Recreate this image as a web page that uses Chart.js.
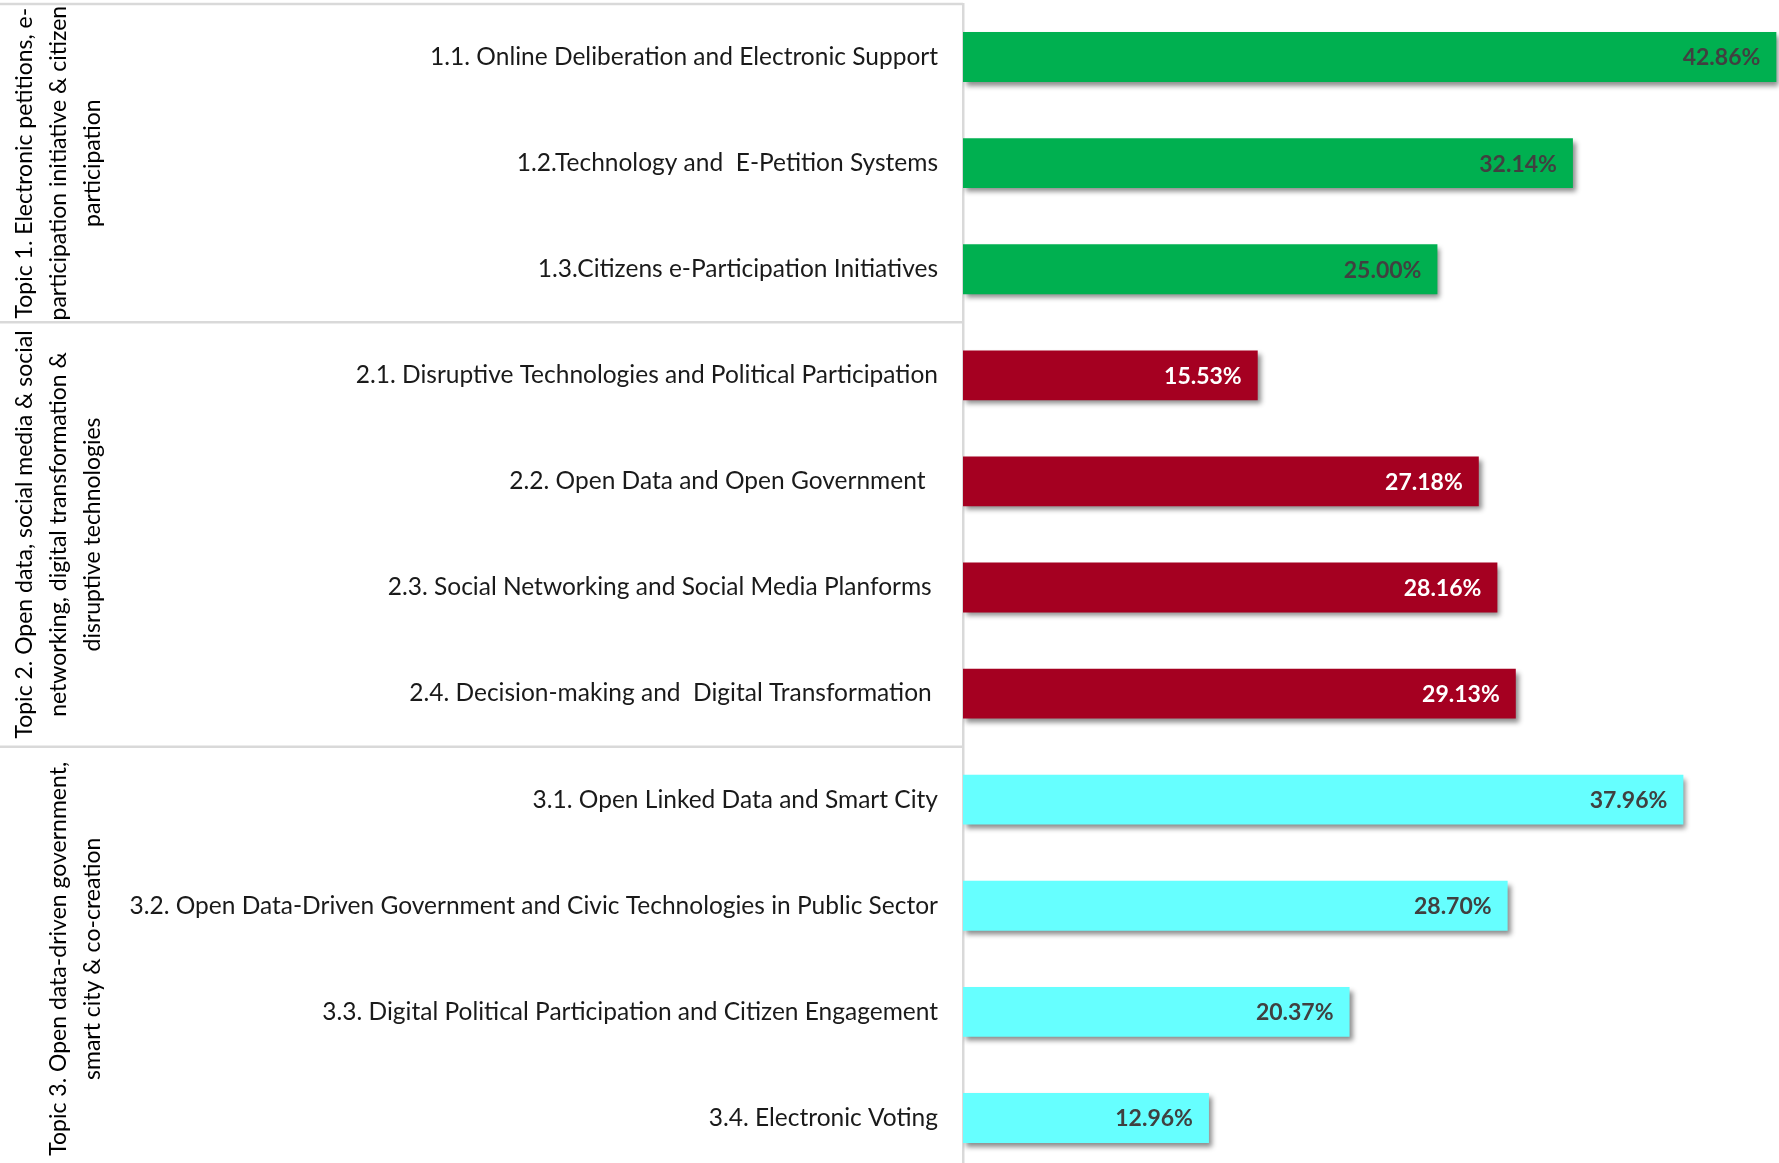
<!DOCTYPE html>
<html>
<head>
<meta charset="utf-8">
<script src="https://cdn.jsdelivr.net/npm/chart.js@4.4.1/dist/chart.umd.min.js"></script>
<style>
  html, body { margin: 0; padding: 0; background: #fff; overflow: hidden; }
  #wrap { width: 1779px; height: 1171px; position: relative; }
</style>
</head>
<body>
<div id="wrap"><canvas id="chart"></canvas></div>
<script>
const categories = [
    '1.1. Online Deliberation and Electronic Support',
    '1.2.Technology and  E-Petition Systems',
    '1.3.Citizens e-Participation Initiatives',
    '2.1. Disruptive Technologies and Political Participation',
    '2.2. Open Data and Open Government  ',
    '2.3. Social Networking and Social Media Planforms ',
    '2.4. Decision-making and  Digital Transformation ',
    '3.1. Open Linked Data and Smart City',
    '3.2. Open Data-Driven Government and Civic Technologies in Public Sector',
    '3.3. Digital Political Participation and Citizen Engagement',
    '3.4. Electronic Voting'
];
const values = [42.86, 32.14, 25.00, 15.53, 27.18, 28.16, 29.13, 37.96, 28.70, 20.37, 12.96];

const topicSizes = [3, 4, 4];
const topicLines = [
    ['Topic 1. Electronic petitions, e-', 'participation initiative & citizen', 'participation'],
    ['Topic 2. Open data, social media & social', 'networking, digital transformation &', 'disruptive technologies'],
    ['Topic 3. Open data-driven government,', 'smart city & co-creation']
];
const topicColors = ['#00B050', '#A50021', '#66FFFF'];
const topicLabelColors = ['#404040', '#FFFFFF', '#404040'];

// colour of each bar from its topic
const barColors = [];
const valueColors = [];
topicSizes.forEach((n, t) => {
    for (let i = 0; i < n; i++) {
        barColors.push(topicColors[t]);
        valueColors.push(topicLabelColors[t]);
    }
});

const FONT = 'Lato, "Open Sans", sans-serif';
const AXIS_X = 963;

const shadowPlugin = {
    id: 'barShadow',
    beforeDatasetsDraw(chart) {
        const ctx = chart.ctx;
        ctx.save();
        ctx.shadowColor = 'rgba(0,0,0,0.45)';
        ctx.shadowBlur = 5;
        ctx.shadowOffsetX = 3;
        ctx.shadowOffsetY = 4;
    },
    afterDatasetsDraw(chart) {
        chart.ctx.restore();
    }
};

const valueLabels = {
    id: 'valueLabels',
    afterDatasetsDraw(chart) {
        const ctx = chart.ctx;
        const meta = chart.getDatasetMeta(0);
        ctx.save();
        ctx.font = 'bold 23px ' + FONT;
        ctx.textAlign = 'right';
        ctx.textBaseline = 'middle';
        meta.data.forEach((bar, i) => {
            ctx.fillStyle = valueColors[i];
            ctx.fillText(values[i].toFixed(2) + '%', bar.x - 16, bar.y + 1);
        });
        ctx.restore();
    }
};

const topicGroups = {
    id: 'topicGroups',
    afterDraw(chart) {
        const ctx = chart.ctx;
        const y = chart.scales.y;
        const half = (y.getPixelForValue(1) - y.getPixelForValue(0)) / 2;
        ctx.save();
        // separator lines
        ctx.strokeStyle = '#d9d9d9';
        ctx.lineWidth = 2.5;
        let start = 0;
        topicSizes.forEach((n, t) => {
            const top = y.getPixelForValue(start) - half;
            const bottom = y.getPixelForValue(start + n - 1) + half;
            ctx.beginPath();
            ctx.moveTo(0, top);
            ctx.lineTo(AXIS_X, top);
            ctx.stroke();

            // rotated group title
            const mid = (top + bottom) / 2;
            const lines = topicLines[t];
            ctx.fillStyle = '#000';
            ctx.font = '23px ' + FONT;
            ctx.textAlign = 'center';
            ctx.textBaseline = 'middle';
            lines.forEach((line, k) => {
                const x = 93 - (lines.length - 1 - k) * 34;
                ctx.save();
                ctx.translate(x, mid);
                ctx.rotate(-Math.PI / 2);
                ctx.fillText(line, 0, 0);
                ctx.restore();
            });
            start += n;
        });
        ctx.restore();
    }
};

new Chart(document.getElementById('chart'), {
    type: 'bar',
    data: {
        labels: categories,
        datasets: [{
            data: values,
            backgroundColor: barColors,
            borderWidth: 0,
            barPercentage: 1,
            categoryPercentage: 0.47
        }]
    },
    options: {
        indexAxis: 'y',
        responsive: true,
        maintainAspectRatio: false,
        animation: false,
        layout: { padding: { top: 4, right: 0, bottom: 0, left: 0 } },
        plugins: {
            legend: { display: false },
            tooltip: { enabled: false }
        },
        scales: {
            x: {
                display: false,
                min: 0,
                max: 43
            },
            y: {
                grid: { display: false, drawTicks: false },
                border: { display: true, color: '#d9d9d9', width: 2.5 },
                ticks: {
                    color: '#1a1a1a',
                    padding: 25,
                    font: { family: FONT, size: 24.5 }
                },
                afterFit(scale) {
                    scale.width = AXIS_X;
                    scale.paddingTop = 0;
                    scale.paddingBottom = 0;
                }
            }
        }
    },
    plugins: [shadowPlugin, valueLabels, topicGroups]
});
</script>
</body>
</html>
